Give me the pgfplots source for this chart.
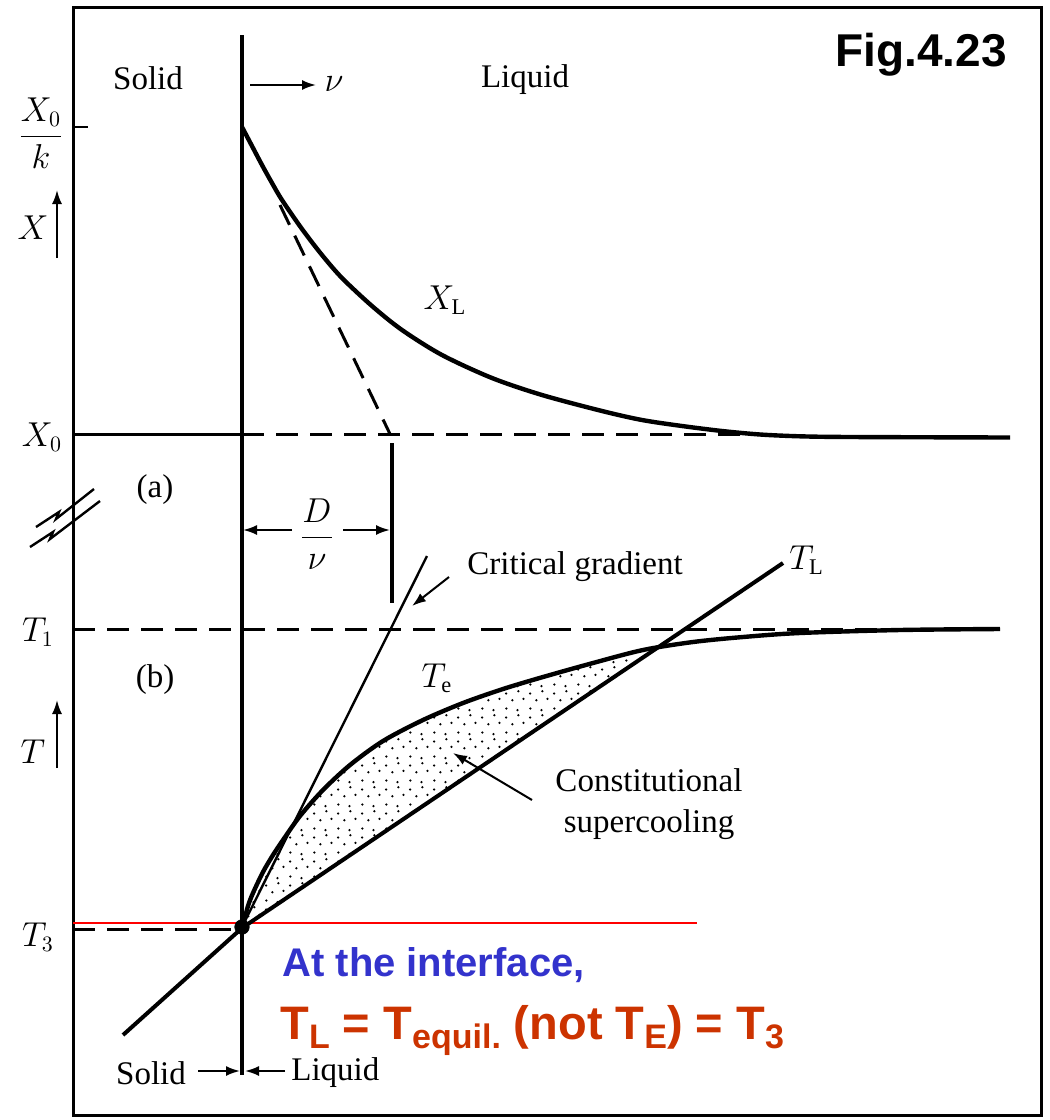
\documentclass[border=0pt]{standalone}
\usepackage{fontspec}
\setmainfont{Liberation Serif}
\newfontfamily\headsans{Liberation Sans}
\usepackage{pgfplots}
\pgfplotsset{compat=1.18}
\usetikzlibrary{arrows.meta,patterns.meta}

\definecolor{noteblue}{RGB}{51,51,204}
\definecolor{notered}{RGB}{204,51,0}

% irregular stipple for the supercooled zone
\tikzdeclarepattern{
  name=stipple, type=uncolored,
  bounding box={(0,0) and (12pt,12pt)},
  tile size={(12pt,12pt)},
  code={
    \fill (1.2pt,1.8pt) circle (0.65pt);
    \fill (7.0pt,1.0pt) circle (0.65pt);
    \fill (4.3pt,6.1pt) circle (0.65pt);
    \fill (10.1pt,6.8pt) circle (0.65pt);
    \fill (1.1pt,9.6pt) circle (0.65pt);
    \fill (7.5pt,10.8pt) circle (0.65pt);
  }}

\newcommand{\lbl}{\fontsize{16.5}{19}\selectfont}
\newcommand{\mlbl}{\fontsize{16}{19}\selectfont}
\newcommand{\sub}[1]{\raisebox{-0.2em}{\fontsize{17}{20}\selectfont #1}}

\begin{document}
\begin{tikzpicture}
\begin{axis}[
  width=525pt, height=560pt, scale only axis,
  xmin=0, xmax=1050, ymin=0, ymax=1120,
  y dir=reverse, hide axis, clip=false,
]
\path (axis cs:0,0) rectangle (axis cs:1050,1120);

% frame
\draw[line width=1.5pt] (axis cs:73,7) rectangle (axis cs:1041,1115);

% ---------- (a) composition profile ----------
% X0/k tick
\addplot[line width=1.3pt] coordinates {(73,127) (88,127)};
% X0 level: solid in the solid, dashed in the liquid
\addplot[line width=1.5pt] coordinates {(73,434) (242,434)};
\addplot[line width=1.5pt, dash pattern=on 11pt off 6pt] coordinates {(242,434) (740,434)};
% tangent at the interface
\addplot[line width=1.5pt, dash pattern=on 11pt off 6pt] coordinates {(280,205) (390,434)};
% diffusion distance marker
\addplot[line width=1.6pt] coordinates {(392,443) (392,603)};
% X_L profile
\addplot[line width=2.2pt, smooth] coordinates {
  (242,127) (252,146) (262,165) (272,183) (282,200) (302,229) (322,255)
  (342,278) (372,306) (402,330) (442,355) (492,378) (542,395) (602,411)
  (642,420) (682,426) (722,431) (760,434.5) (800,436.3) (850,437) (1010,437.5)};

% ---------- (b) temperature profile ----------
% stippled region between T_e and T_L
\addplot[draw=none, pattern=stipple] coordinates {
  (243,925) (248,906) (253,893) (263,872) (273,855) (283,840) (300,816)
  (323,790) (350,765) (383,741) (423,720) (463,703) (503,689) (543,677)
  (593,663) (640,651) (658,647)
  (450,787) (242,928)};
% T1 level
\addplot[line width=1.5pt, dash pattern=on 11pt off 6pt] coordinates {(73,629) (1000,629)};
% T3 level
\addplot[line width=1.5pt, dash pattern=on 11pt off 6pt] coordinates {(73,929) (242,929)};
% red reference line
\addplot[red, line width=1pt] coordinates {(73,923) (697,923)};
% critical gradient
\addplot[line width=1.2pt] coordinates {(243,925) (427,556)};
% T_e
\addplot[line width=2.2pt, smooth] coordinates {
  (243,925) (248,906) (253,893) (263,872) (273,855) (283,840) (300,816)
  (323,790) (350,765) (383,741) (423,720) (463,703) (503,689) (543,677)
  (593,663) (643,650) (693,642) (743,637) (800,633) (900,630) (1000,629)};
% T_L
\addplot[line width=2pt] coordinates {(123,1035) (242,928) (783,563)};
% interface
\addplot[line width=2pt] coordinates {(242,35) (242,1075)};
% interface point
\addplot[only marks, mark=*, mark size=3.6pt] coordinates {(242,927)};

% ---------- arrows ----------
\begin{scope}[line width=1pt, >={Latex[length=7pt,width=5pt]}]
\draw[->] (axis cs:250,85) -- (axis cs:316,85);
\draw[->] (axis cs:57,258) -- (axis cs:57,190);
\draw[->] (axis cs:57,768) -- (axis cs:57,700);
\draw[->] (axis cs:292,530) -- (axis cs:243,530);
\draw[->] (axis cs:343,530) -- (axis cs:390,530);
\draw[->] (axis cs:449,577) -- (axis cs:412,606);
\draw[->] (axis cs:532,800) -- (axis cs:453,753);
\draw[->] (axis cs:198,1071) -- (axis cs:240,1071);
\draw[->] (axis cs:285,1071) -- (axis cs:245,1071);
\end{scope}

% axis break
\draw[line width=1.2pt] (axis cs:36,527) -- (axis cs:59,512) -- (axis cs:56,519) -- (axis cs:94,489);
\draw[line width=1.2pt] (axis cs:30,547) -- (axis cs:53,532) -- (axis cs:50,539) -- (axis cs:100,501);

% ---------- labels ----------
\node[inner sep=0] at (axis cs:148,78) {\lbl Solid};
\node[inner sep=0] at (axis cs:525,80) {\lbl Liquid};
\node[inner sep=0] at (axis cs:334,84) {\mlbl $\nu$};
\node[inner sep=0] at (axis cs:41,133) {\mlbl $\displaystyle\frac{X_0}{k}$};
\node[inner sep=0] at (axis cs:33,228) {\mlbl $X$};
\node[inner sep=0] at (axis cs:42,437) {\mlbl $X_0$};
\node[inner sep=0] at (axis cs:445,300) {\mlbl $X_{\mathrm{L}}$};
\node[inner sep=0] at (axis cs:155,490) {\lbl (a)};
\node[inner sep=0] at (axis cs:317,534) {\mlbl $\displaystyle\frac{D}{\nu}$};
\node[inner sep=0] at (axis cs:38,632) {\mlbl $T_1$};
\node[inner sep=0] at (axis cs:155,680) {\lbl (b)};
\node[inner sep=0] at (axis cs:33,752) {\mlbl $T$};
\node[inner sep=0] at (axis cs:38,937) {\mlbl $T_3$};
\node[inner sep=0] at (axis cs:437,678) {\mlbl $T_{\mathrm{e}}$};
\node[inner sep=0, anchor=west] at (axis cs:789,560) {\mlbl $T_{\mathrm{L}}$};
\node[inner sep=0, anchor=west] at (axis cs:467,567) {\lbl Critical gradient};
\node[inner sep=0] at (axis cs:649,780) {\lbl Constitutional};
\node[inner sep=0] at (axis cs:649,825) {\lbl supercooling};
\node[inner sep=0] at (axis cs:151,1073) {\lbl Solid};
\node[inner sep=0, anchor=west] at (axis cs:291,1073) {\lbl Liquid};

\node[inner sep=0] at (axis cs:921,55) {\headsans\bfseries\fontsize{23}{26}\selectfont Fig.4.23};
\node[inner sep=0, anchor=base west, text=noteblue] at (axis cs:282,976)
  {\headsans\bfseries\fontsize{20}{24}\selectfont At the interface,};
\node[inner sep=0, anchor=base west, text=notered] at (axis cs:280,1039)
  {\headsans\bfseries\fontsize{23.5}{28}\selectfont
   T\sub{L} = T\sub{equil.} (not T\sub{E}) = T\sub{3}};
\end{axis}
\end{tikzpicture}
\end{document}
